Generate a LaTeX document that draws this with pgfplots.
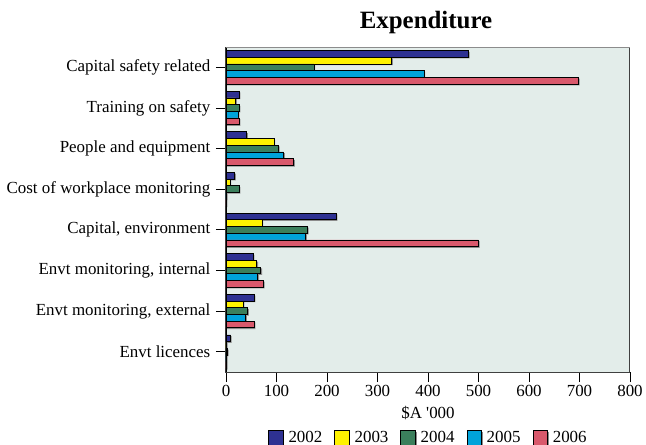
\documentclass[border=0pt]{standalone}
\usepackage{pgfplots}
\pgfplotsset{compat=1.18}
\usepackage{fontspec}
\setmainfont{Liberation Serif}
\newfontfamily\rawserif[Ligatures=TeXOff]{Liberation Serif}
\definecolor{cA}{HTML}{2E3192}
\definecolor{cB}{HTML}{FFF200}
\definecolor{cC}{HTML}{3B7F5C}
\definecolor{cD}{HTML}{00A3DA}
\definecolor{cE}{HTML}{D9596C}
\definecolor{bg}{HTML}{E3EDEA}
\newcommand{\lf}{\fontsize{17}{20}\selectfont}
\begin{document}
\begin{tikzpicture}
\path[use as bounding box] (-226bp,-73bp) rectangle (420bp,372bp);
\begin{axis}[
  scale only axis,
  width=404bp, height=325bp,
  anchor=south west, at={(0,0)},
  xbar, bar width=6.7bp,
  xmin=0, xmax=800,
  ymin=-0.5, ymax=7.5,
  xtick={0,100,...,800},
  ytick={0,...,7},
  yticklabels={Envt licences, {Envt monitoring, external}, {Envt monitoring, internal}, {Capital, environment}, Cost of workplace monitoring, People and equipment, Training on safety\ , Capital safety related},
  tick align=outside, major tick length=10bp,
  xtick pos=left, ytick pos=left,
  tick style={black, line width=0.8bp},
  axis background/.style={fill=bg},
  axis line style={draw=black!75, line width=1bp},
  ticklabel style={font=\lf},
  /pgf/number format/assume math mode=true,
  yticklabel style={inner xsep=5.5bp},
  xlabel={\$A {\rawserif '}000},
  xlabel style={font=\lf, at={(axis description cs:0.5,0)}, anchor=base, yshift=-46bp},
  title={\textbf{Expenditure}},
  title style={font=\fontsize{25}{28}\selectfont, at={(axis description cs:0.5,1)}, anchor=base, yshift=13bp, xshift=-2bp},
  legend columns=5,
  legend style={draw=none, fill=none, font=\lf, at={(axis description cs:0.5,0)}, anchor=center, yshift=-66bp,
    nodes={inner sep=1bp},
    /tikz/every odd column/.append style={column sep=4bp},
    /tikz/every even column/.append style={column sep=11bp}},
  legend image code/.code={\draw[#1, draw=black, line width=0.6bp] (0bp,-7.3bp) rectangle (14.6bp,7.3bp);},
  every axis plot/.append style={draw=black, line width=0.7bp,
    preaction={fill=black!45, draw=none, transform canvas={shift={(1.2bp,-1.2bp)}}}},
]
\addplot[fill=cA, bar shift=13.4bp] coordinates {(9,0) (56,1) (54,2) (218,3) (17,4) (41,5) (26,6) (480,7)};
\addplot[fill=cB, bar shift=6.7bp] coordinates {(1,0) (34,1) (61,2) (71,3) (8,4) (95,5) (19,6) (328,7)};
\addplot[fill=cC, bar shift=0bp] coordinates {(3,0) (43,1) (69,2) (161,3) (26,4) (104,5) (26,6) (174,7)};
\addplot[fill=cD, bar shift=-6.7bp] coordinates {(1,0) (39,1) (63,2) (158,3) (1,4) (114,5) (24,6) (392,7)};
\addplot[fill=cE, bar shift=-13.4bp] coordinates {(1,0) (56,1) (74,2) (500,3) (0.5,4) (134,5) (26,6) (698,7)};
\legend{2002,2003,2004,2005,2006}
\draw[black, line width=1.5bp] (rel axis cs:0,0) -- (rel axis cs:0,1);
\draw[black!45, line width=1bp] (rel axis cs:0,1) -- (rel axis cs:1,1);
\end{axis}
\end{tikzpicture}
\end{document}
